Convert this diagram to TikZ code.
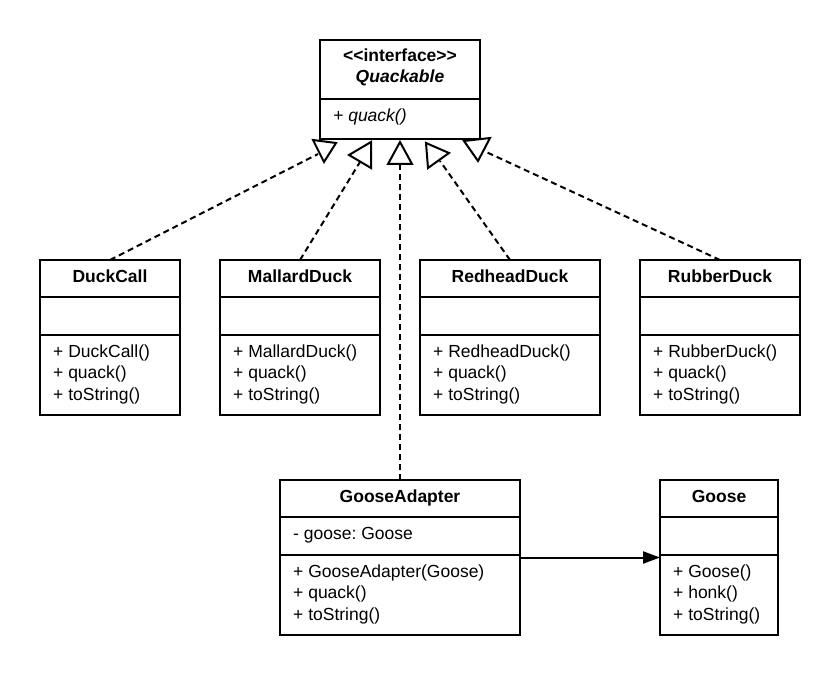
\documentclass[tikz,border=0pt]{standalone}
\usepackage{fontspec}
\setmainfont{Liberation Sans}
\usetikzlibrary{arrows.meta}
\frenchspacing
\begin{document}
\begin{tikzpicture}[x=1pt,y=-1pt,
  box/.style={draw, line width=2.2pt, anchor=north west, inner sep=0pt, outer sep=0pt},
  txt/.style={anchor=base west, inner sep=0pt, font=\fontsize{17.5}{20}\selectfont},
  ttl/.style={anchor=base, inner sep=0pt, font=\fontsize{17.5}{20}\selectfont\bfseries},
  dline/.style={line width=2pt, dash pattern=on 6pt off 4pt},
  tri/.style={draw, fill=white, line width=2pt, line join=miter},
  divline/.style={line width=2.2pt},
  assoc/.style={line width=2pt, -{Triangle[length=17pt,width=12pt]}}]
\useasboundingbox (0,0) rectangle (840,676);

% ---------- Quackable ----------
\node[box, minimum width=160pt, minimum height=99pt] (q) at (320,40) {};
\draw[divline] ([yshift=-59pt]q.north west) -- ([yshift=-59pt]q.north east);
\node[ttl] (qt1) at ([yshift=-22pt]q.north) {<\kern0pt<interface>\kern0pt>};
\node[ttl] (qt2) at ([yshift=-43pt]q.north) {\textit{Quackable}};
\node[txt] (qm1) at ([xshift=13pt,yshift=-82pt]q.north west) {\textit{+ quack()}};

% ---------- Duck classes ----------
\foreach \nm/\x/\w/\ti in {dc/40/140/DuckCall, md/220/160/MallardDuck, rd/420/180/RedheadDuck, rb/640/160/RubberDuck}{
  \node[box, minimum width=\w pt, minimum height=155pt] (\nm) at (\x,260) {};
  \draw[divline] ([yshift=-37pt]\nm.north west) -- ([yshift=-37pt]\nm.north east);
  \draw[divline] ([yshift=-75pt]\nm.north west) -- ([yshift=-75pt]\nm.north east);
  \node[ttl] (\nm t) at ([yshift=-22pt]\nm.north) {\ti};
  \node[txt] (\nm m1) at ([xshift=13pt,yshift=-97pt]\nm.north west) {+ \ti()};
  \node[txt] (\nm m2) at ([xshift=13pt,yshift=-118.5pt]\nm.north west) {+ quack()};
  \node[txt] (\nm m3) at ([xshift=13pt,yshift=-140pt]\nm.north west) {+ toString()};
}

% ---------- GooseAdapter ----------
\node[box, minimum width=240pt, minimum height=155pt] (ga) at (280,480) {};
\draw[divline] ([yshift=-37pt]ga.north west) -- ([yshift=-37pt]ga.north east);
\draw[divline] ([yshift=-75pt]ga.north west) -- ([yshift=-75pt]ga.north east);
\node[ttl] (gat) at ([yshift=-22pt]ga.north) {GooseAdapter};
\node[txt] (gaa) at ([xshift=13pt,yshift=-59pt]ga.north west) {- goose: Goose};
\node[txt] (gam1) at ([xshift=13pt,yshift=-97pt]ga.north west) {+ GooseAdapter(Goose)};
\node[txt] (gam2) at ([xshift=13pt,yshift=-118.5pt]ga.north west) {+ quack()};
\node[txt] (gam3) at ([xshift=13pt,yshift=-140pt]ga.north west) {+ toString()};

% ---------- Goose ----------
\node[box, minimum width=118pt, minimum height=155pt] (go) at (660,480) {};
\draw[divline] ([yshift=-37pt]go.north west) -- ([yshift=-37pt]go.north east);
\draw[divline] ([yshift=-75pt]go.north west) -- ([yshift=-75pt]go.north east);
\node[ttl] (got) at ([yshift=-22pt]go.north) {Goose};
\node[txt] (gom1) at ([xshift=13pt,yshift=-97pt]go.north west) {+ Goose()};
\node[txt] (gom2) at ([xshift=13pt,yshift=-118.5pt]go.north west) {+ honk()};
\node[txt] (gom3) at ([xshift=13pt,yshift=-140pt]go.north west) {+ toString()};

% ---------- realization connectors ----------
\coordinate (e1) at (318,154);
\coordinate (e2) at (360,162);
\coordinate (e3) at (400,164);
\coordinate (e4) at (440,161);
\coordinate (e5) at (484,151);
\draw[dline] (dc.north) -- (e1);
\draw[dline] (md.north) -- (e2);
\draw[dline] (ga.north) -- (e3);
\draw[dline] (rd.north) -- (e4);
\draw[dline] (rb.north) -- (e5);

% hollow triangle heads
\draw[tri] (313,140) -- (336,143) -- (324,162) -- cycle;
\draw[tri] (371,142) -- (349,155) -- (371,168) -- cycle;
\draw[tri] (400,142) -- (388,164) -- (412,164) -- cycle;
\draw[tri] (426,143) -- (449,153) -- (428,168) -- cycle;
\draw[tri] (464,141) -- (490,138) -- (478,161) -- cycle;

% ---------- association ----------
\draw[assoc] (ga.east) -- (go.west);
\end{tikzpicture}
\end{document}
